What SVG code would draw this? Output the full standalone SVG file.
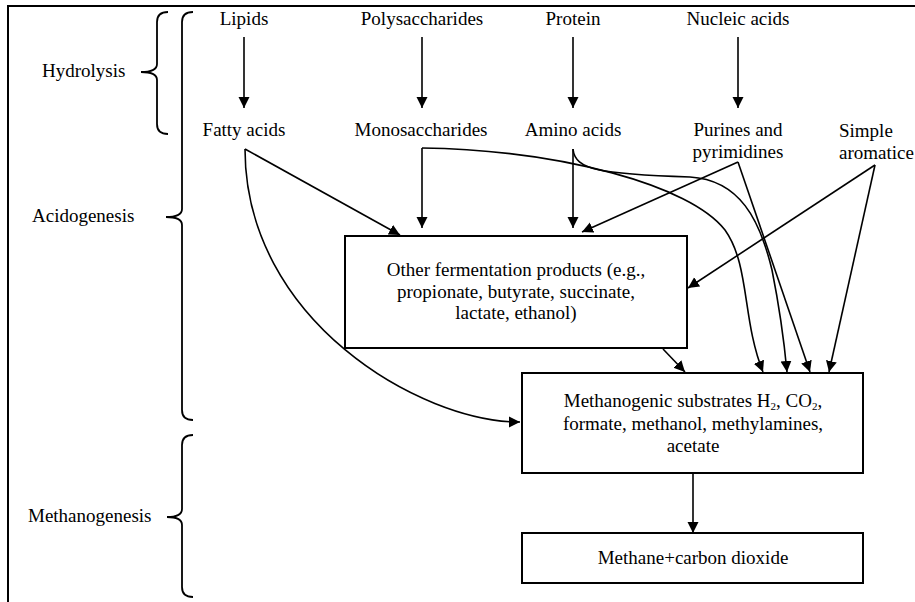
<svg xmlns="http://www.w3.org/2000/svg" width="915" height="602" viewBox="0 0 915 602">
<style>
text{font-family:"Liberation Serif","Times New Roman","DejaVu Serif",serif;font-size:19px;fill:#000}
.c{text-anchor:middle}
.box{fill:#fff;stroke:#000;stroke-width:2}
.ln{fill:none;stroke:#000;stroke-width:1.6;marker-end:url(#ah)}
.br{fill:none;stroke:#000;stroke-width:1.8}
.sub{font-size:11px}
</style>
<defs>
<marker id="ah" markerUnits="userSpaceOnUse" markerWidth="12" markerHeight="12" refX="11" refY="6" orient="auto">
<path d="M0,0.5 L11,6 L0,11.5 z" fill="#000"/>
</marker>
</defs>
<rect width="915" height="602" fill="#fff"/>
<g id="frame"><path d="M8,602 L8,6 L915,6" fill="none" stroke="#000" stroke-width="2"/></g>

<g id="stages">
<text x="42" y="77">Hydrolysis</text>
<path class="br" d="M168,12 Q157,12 157,22 L157,64 Q157,72 141,72 Q157,72 157,80 L157,124 Q157,134 168,134"/>
<text x="32" y="222">Acidogenesis</text>
<path class="br" d="M193,12 Q182,12 182,22 L182,209 Q182,217 166,217 Q182,217 182,225 L182,410 Q182,420 193,420"/>
<text x="28" y="522">Methanogenesis</text>
<path class="br" d="M193,435 Q182,435 182,445 L182,509 Q182,517 167,517 Q182,517 182,525 L182,587 Q182,597 193,597"/>
</g>

<g id="n-lipids"><text class="c" x="244" y="25">Lipids</text></g>
<g id="n-polysaccharides"><text class="c" x="422" y="25">Polysaccharides</text></g>
<g id="n-protein"><text class="c" x="573" y="25">Protein</text></g>
<g id="n-nucleic"><text class="c" x="738" y="25">Nucleic acids</text></g>
<g id="n-fatty"><text class="c" x="244" y="136">Fatty acids</text></g>
<g id="n-mono"><text class="c" x="421" y="136">Monosaccharides</text></g>
<g id="n-amino"><text class="c" x="573" y="136">Amino acids</text></g>
<g id="n-purines"><text class="c" x="738" y="136">Purines and</text><text class="c" x="738" y="158">pyrimidines</text></g>
<g id="n-simple"><text x="839" y="137">Simple</text><text x="839" y="159">aromatice</text></g>

<g id="n-other">
<rect class="box" x="345" y="236" width="342" height="112"/>
<text class="c" x="516" y="276">Other fermentation products (e.g.,</text>
<text class="c" x="516" y="298">propionate, butyrate, succinate,</text>
<text class="c" x="516" y="319">lactate, ethanol)</text>
</g>
<g id="n-substrates">
<rect class="box" x="522" y="373" width="341" height="100"/>
<text class="c" x="693" y="407">Methanogenic substrates H<tspan class="sub" baseline-shift="-3">2</tspan>, CO<tspan class="sub" baseline-shift="-3">2</tspan>,</text>
<text class="c" x="693" y="430">formate, methanol, methylamines,</text>
<text class="c" x="693" y="452">acetate</text>
</g>
<g id="n-methane">
<rect class="box" x="522" y="533" width="341" height="50"/>
<text class="c" x="693" y="564">Methane+carbon dioxide</text>
</g>

<g id="connectors">
<path class="ln" d="M244,37 L244,108"/>
<path class="ln" d="M422,37 L422,108"/>
<path class="ln" d="M573,37 L573,108"/>
<path class="ln" d="M738,37 L738,108"/>
<path class="ln" d="M245,149 L400,235"/>
<path class="ln" d="M245,149 C245,320 420,422 520,422"/>
<path class="ln" d="M422,148 L422,228"/>
<path class="ln" d="M422,148 C560,150 690,185 725,230 C750,265 742,320 763,372"/>
<path class="ln" d="M573,149 L573,228"/>
<path class="ln" d="M573,149 C575,170 600,174 690,177 C740,180 760,220 772,270 C780,310 784,340 787,372"/>
<path class="ln" d="M738,162 L582,232"/>
<path class="ln" d="M738,162 L810,372"/>
<path class="ln" d="M875,165 L688,288"/>
<path class="ln" d="M875,165 L829,372"/>
<path class="ln" d="M663,349 L685,372"/>
<path class="ln" d="M693,473 L693,533"/>
</g>
</svg>
